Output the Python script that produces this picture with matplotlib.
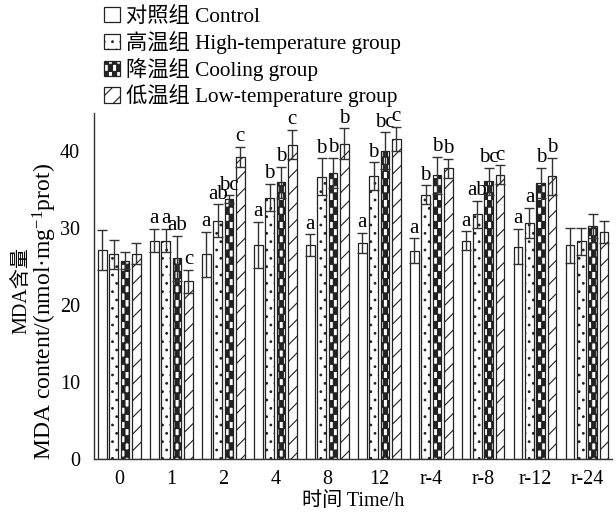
import matplotlib
matplotlib.use('Agg')
import matplotlib.pyplot as plt
import matplotlib.hatch as mhatch
from matplotlib.path import Path
import numpy as np

# ---------------- data ----------------
times = ['0', '1', '2', '4', '8', '12', 'r-4', 'r-8', 'r-12', 'r-24']
group_labels = ['对照组 Control', '高温组 High-temperature group',
                '降温组 Cooling group', '低温组 Low-temperature group']

control = [27.2, 28.4, 26.6, 27.8, 27.8, 28.1, 27.1, 28.4, 27.6, 27.8]
control_err = [2.6, 1.5, 2.9, 3.0, 1.4, 1.3, 1.6, 1.2, 2.3, 2.3]
high = [26.6, 28.4, 31.0, 34.0, 36.7, 36.8, 34.4, 31.8, 30.7, 28.3]
high_err = [1.9, 1.5, 2.1, 1.8, 2.4, 1.8, 1.2, 1.8, 2.0, 1.8]
cooling = [25.8, 26.1, 33.8, 36.0, 37.2, 40.1, 36.9, 36.1, 35.9, 30.3]
cooling_err = [1.1, 2.9, 0.5, 2.0, 2.0, 2.4, 2.4, 1.8, 2.0, 1.6]
low = [26.7, 23.1, 39.3, 40.9, 41.0, 41.6, 37.8, 37.0, 36.8, 29.5]
low_err = [1.4, 1.5, 1.3, 1.9, 2.0, 1.6, 1.2, 1.2, 2.4, 1.4]

letters_control = ['', 'a', 'a', 'a', 'a', 'a', 'a', 'a', 'a', '']
letters_high = ['', 'a', 'ab', 'b', 'b', 'b', 'b', 'ab', 'a', '']
letters_cooling = ['', 'ab', 'bc', 'b', 'b', 'bc', 'b', 'bc', 'b', '']
letters_low = ['', 'c', 'c', 'c', 'b', 'c', 'b', 'c', 'b', '']


# ---------------- custom checker hatch (uses '*') ----------------
class CheckerHatch(mhatch.HatchPatternBase):
    nx, ny = 24, 14

    def __init__(self, hatch, density):
        self.on = hatch.count('*') > 0
        self.num_vertices = (self.nx * self.ny // 2) * 5 if self.on else 0

    def set_vertices_and_codes(self, vertices, codes):
        k = 0
        w = 1.0 / self.nx
        h = 1.0 / self.ny
        for i in range(self.nx):
            for j in range(self.ny):
                if (i + j) % 2 == 0:
                    x0, y0 = i * w, j * h
                    vertices[k:k + 5] = [(x0, y0), (x0 + w, y0), (x0 + w, y0 + h),
                                         (x0, y0 + h), (x0, y0)]
                    codes[k:k + 5] = [Path.MOVETO, Path.LINETO, Path.LINETO,
                                      Path.LINETO, Path.CLOSEPOLY]
                    k += 5

    get_vertices_and_codes = set_vertices_and_codes


mhatch._hatch_types = [t for t in mhatch._hatch_types
                       if t is not mhatch.Stars] + [CheckerHatch]

# ---------------- style ----------------
plt.rcParams['font.family'] = ['Liberation Serif', 'Noto Sans CJK SC']
plt.rcParams['mathtext.fontset'] = 'custom'
plt.rcParams['mathtext.rm'] = 'Liberation Serif'
plt.rcParams['mathtext.it'] = 'Liberation Serif:italic'
plt.rcParams['hatch.linewidth'] = 0.8

fig = plt.figure(figsize=(6.16, 5.15), dpi=100)
ax = fig.add_axes([94 / 616, 56 / 515, (612 - 94) / 616, (459 - 113) / 515])

series = [control, high, cooling, low]
errors = [control_err, high_err, cooling_err, low_err]
letters = [letters_control, letters_high, letters_cooling, letters_low]
hatches = ['', '..', '*', '//']

x = np.arange(len(times))
step = 0.218
width = 0.167
handles = []
for i, (vals, errs, lets, hat) in enumerate(zip(series, errors, letters, hatches)):
    xs = x + (i - 1.5) * step
    b = ax.bar(xs, vals, width, facecolor='white', edgecolor='#222222',
               linewidth=0.9, hatch=hat, label=group_labels[i], zorder=2)
    ax.errorbar(xs, vals, yerr=errs, fmt='none', ecolor='#333333',
                elinewidth=1.0, capsize=3.5, capthick=1.0, zorder=3)
    for xi, v, e, t in zip(xs, vals, errs, lets):
        if t:
            ax.annotate(t, (xi, v + e), xytext=(0, 0.5), textcoords='offset points',
                        ha='center', va='bottom', fontsize=15, color='black',
                        zorder=4)
    handles.append(b)

ax.set_xlim(-0.49, 9.48)
ax.set_ylim(0, 45)
ax.set_yticks([0, 10, 20, 30, 40])
ax.set_xticks(x)
ax.set_xticklabels(times)
ax.tick_params(axis='both', length=0, labelsize=14.5, colors='black')
ax.tick_params(axis='y', pad=10)
ax.tick_params(axis='x', pad=8)
for s in ['top', 'right']:
    ax.spines[s].set_visible(False)
for s in ['left', 'bottom']:
    ax.spines[s].set_color('#333333')
    ax.spines[s].set_linewidth(1.0)

ax.set_xlabel('时间 Time/h', fontsize=14.5, labelpad=2)

fig.text(22 / 616, 1 - 290 / 515, 'MDA含量', rotation=90, ha='center', va='center',
         fontsize=14.5)
fig.text(45 / 616, 1 - 312 / 515, 'MDA content/(nmol·mg$^{-1}$prot)', rotation=90,
         ha='center', va='center', fontsize=17)

fig.legend(handles=handles, labels=group_labels, loc='upper left',
           bbox_to_anchor=(100 / 616, 1 - 3 / 515), frameon=False, fontsize=15.3,
           handlelength=0.72, handleheight=0.72, handletextpad=0.3,
           labelspacing=0.17, borderaxespad=0, borderpad=0.2)

fig.savefig('out.png', dpi=100)
